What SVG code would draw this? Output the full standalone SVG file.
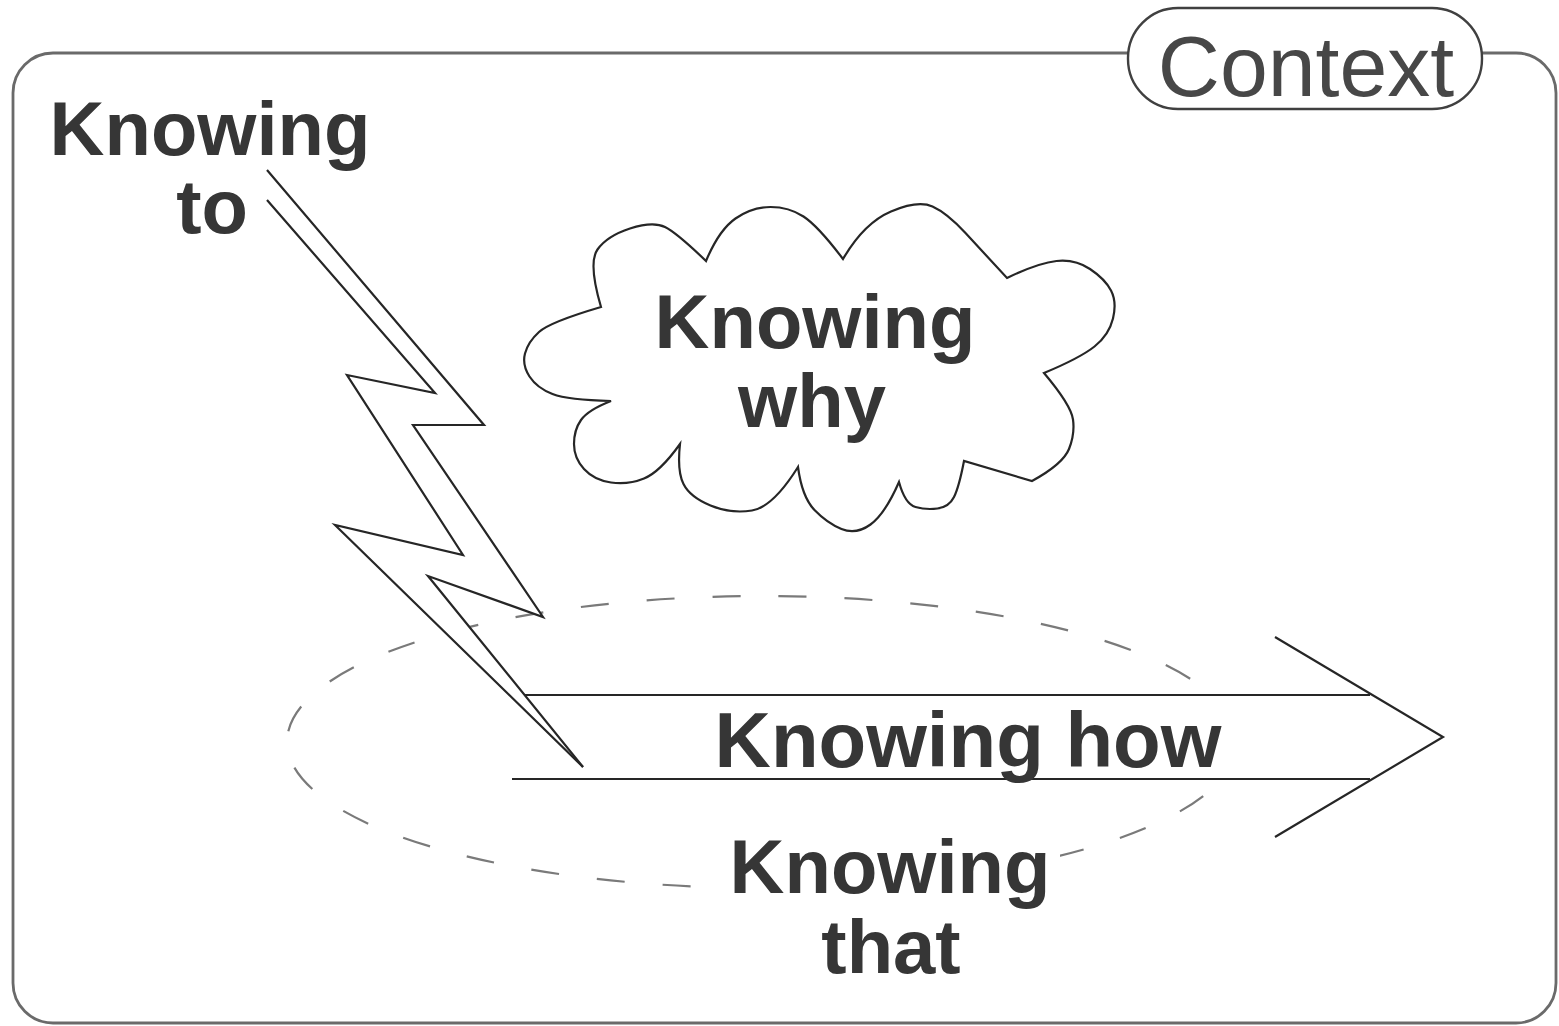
<svg xmlns="http://www.w3.org/2000/svg" width="1559" height="1026" viewBox="0 0 1559 1026">
  <style>
    .lbl { font-family: "Liberation Sans", Arial, sans-serif; font-weight: bold; font-size: 76px; fill: #363636; text-anchor: middle; }
    .ctx { font-family: "Liberation Sans", Arial, sans-serif; font-size: 86px; fill: #474747; text-anchor: middle; }
    .ln { fill: none; stroke: #262626; stroke-width: 2.2; stroke-linejoin: miter; stroke-linecap: butt; }
  </style>
  <rect width="1559" height="1026" fill="#ffffff"/>

  <g id="context-frame">
    <rect x="13" y="53" width="1543" height="970" rx="40" ry="40" fill="none" stroke="#6a6a6a" stroke-width="2.8"/>
    <rect x="1128" y="8" width="354" height="101" rx="50" ry="50" fill="#ffffff" stroke="#404040" stroke-width="2.4"/>
    <text class="ctx" x="1306" y="96">Context</text>
  </g>

  <g id="knowing-that-zone">
    <ellipse cx="762" cy="742" rx="475" ry="146" fill="none" stroke="#7a7a7a" stroke-width="2.2" stroke-dasharray="28 38"/>
  </g>

  <g id="connectors">
    <g id="knowing-how-arrow">
      <polygon points="511,695 1370,695 1370,779 512,779" fill="#ffffff" stroke="none"/>
      <polyline class="ln" points="511,695 1370,695"/>
      <polyline class="ln" points="512,779 1370,779"/>
      <polyline class="ln" points="1275,637 1443,737 1275,837"/>
    </g>
    <g id="knowing-to-bolt">
      <polygon points="267,170 484,425 413,425 543,617 428,576 583,767 335,525 463,555 347,375 435,393 267,200" fill="#ffffff" stroke="none"/>
      <polyline class="ln" points="267,200 435,393 347,375 463,555 335,525 583,767"/>
      <polyline class="ln" points="267,170 484,425 413,425 543,617 428,576 583,767"/>
    </g>
  </g>

  <g id="knowing-why">
    <path class="ln" fill="#ffffff" stroke-linejoin="round" d="M611,401 Q568,400 552.5,394 Q537,388 529.5,376.5 Q522,365 525,353.5 Q528,342 539,332 Q550,322 601,307
      Q588,263 597.5,249.5 Q607,236 630,228.5 Q653,221 665,227 Q677,233 706,261
      Q719,230 735.5,218.5 Q752,207 770.5,207 Q789,207 803.5,216.5 Q818,226 843,259
      Q864,223 891,211.5 Q918,200 932.5,206.5 Q947,213 965.5,233 Q984,253 1007,278
      Q1038,263 1056.5,261 Q1075,259 1090,269 Q1105,279 1111,290.5 Q1117,302 1113,318.5 Q1109,335 1094.5,346.5 Q1080,358 1044,373
      Q1071,405 1073,419.5 Q1075,434 1069,449 Q1063,464 1032,481 L964,461
      Q959,487 954,497 Q949,507 937.5,508.5 Q926,510 915.5,507 Q905,504 899,482
      Q885,514 870.5,524.5 Q856,535 841.5,529 Q827,523 814.5,510 Q802,497 798,467
      Q773,507 752,510.5 Q731,514 710.5,505.5 Q690,497 683.5,484 Q677,471 680,444
      Q660,472 644,478.5 Q628,485 611,482.5 Q594,480 584,469 Q574,458 574,444 Q574,430 581,420 Q588,410 611,401 Z"/>
    <text class="lbl" x="815" y="348">Knowing</text>
    <text class="lbl" x="812" y="427">why</text>
  </g>

  <g id="knowing-to">
    <text class="lbl" x="210" y="155">Knowing</text>
    <text class="lbl" x="212" y="233">to</text>
  </g>

  <g id="knowing-how">
    <text class="lbl" x="968" y="767" style="font-size:78px">Knowing how</text>
  </g>

  <g id="knowing-that">
    <rect x="712" y="838" width="348" height="74" fill="#ffffff"/>
    <text class="lbl" x="890" y="893">Knowing</text>
    <text class="lbl" x="891" y="973">that</text>
  </g>
</svg>
